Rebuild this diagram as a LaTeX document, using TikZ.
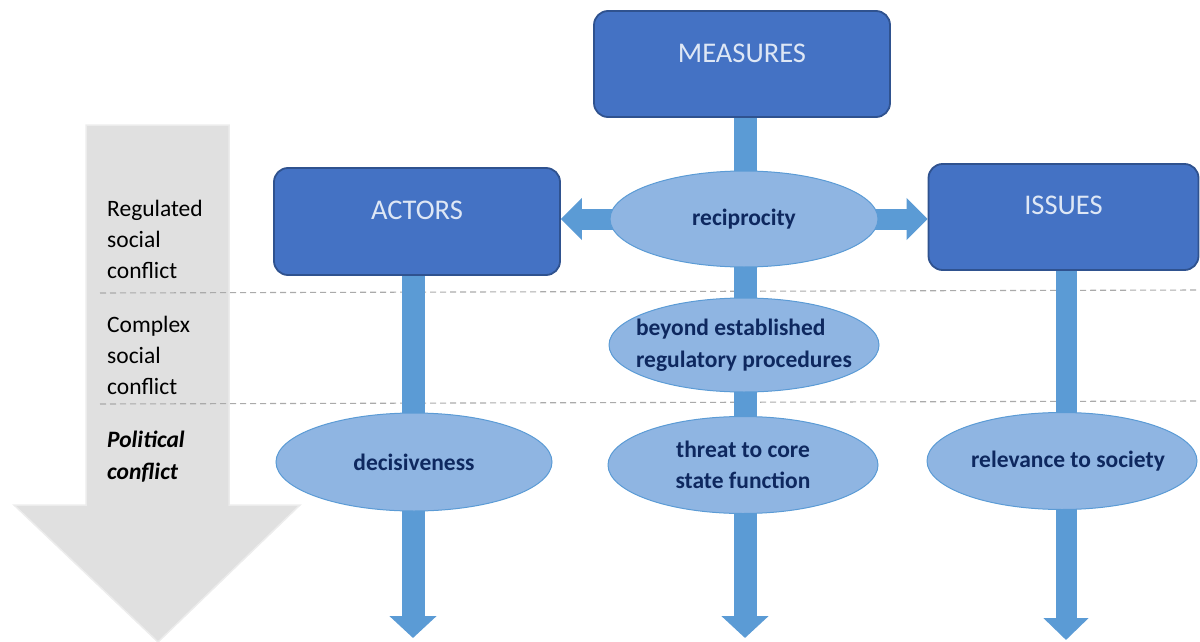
\documentclass[tikz,border=0pt]{standalone}
\usepackage{fontspec}
\setmainfont{Carlito}
\usetikzlibrary{shapes.geometric,arrows.meta}
\pgfdeclarelayer{back}
\pgfdeclarelayer{bars}
\pgfsetlayers{back,bars,main}
\definecolor{boxfill}{HTML}{4472C4}
\definecolor{boxline}{HTML}{2F528F}
\definecolor{barblue}{HTML}{5B9BD5}
\definecolor{ellfill}{RGB}{143,181,226}
\definecolor{elltext}{RGB}{14,40,95}
\definecolor{boxtext}{RGB}{222,231,245}
\definecolor{graybg}{RGB}{224,224,224}
\definecolor{grayedge}{RGB}{236,236,236}
\definecolor{dashgray}{RGB}{170,170,170}
\tikzset{
  box/.style={draw=boxline, line width=1.8pt, fill=boxfill, rounded corners=14pt, inner sep=0pt},
  boxlabel/.style={text=boxtext, inner sep=0pt, font=\fontsize{28.5}{32}\selectfont},
  oval/.style={ellipse, draw=barblue, line width=1pt, fill=ellfill, inner xsep=-40pt, inner ysep=-10pt, text=elltext,
    font=\bfseries\fontsize{23.5}{31.5}\selectfont, align=center},
  bar/.style={draw=barblue, line width=23pt, -{Triangle[width=46pt,length=22pt]}},
  hbar/.style={draw=barblue, line width=21pt,
    {Triangle[width=41pt,length=21pt]}-{Triangle[width=41pt,length=21pt]}},
  level/.style={anchor=north west, inner sep=0pt, align=left, font=\fontsize{23.5}{31}\selectfont},
  divider/.style={draw=dashgray, line width=1.1pt, dash pattern=on 6pt off 4pt},
  bigarrow/.style={fill=graybg, draw=grayedge, line width=1.5pt, line join=miter},
}
\begin{document}
\begin{tikzpicture}[x=1pt, y=-1pt]
\useasboundingbox (0,0) rectangle (1200,642);

% boxes
\node[box, minimum width=296pt, minimum height=106pt] (measures) at (742,64) {};
\node[box, minimum width=286pt, minimum height=107pt] (actors) at (417,221.5) {};
\node[box, minimum width=270pt, minimum height=106pt] (issues) at (1063.5,217) {};
\node[boxlabel] (measuresT) at (742,53) {MEASURES};
\node[boxlabel] (actorsT) at (417,210) {ACTORS};
\node[boxlabel] (issuesT) at (1063.5,205) {ISSUES};

% ellipses
\node[oval, minimum width=268pt, minimum height=96pt] (recip) at (744,219) {reciprocity};
\node[oval, align=left, minimum width=270pt, minimum height=94pt] (beyond) at (744,345) {beyond established\\regulatory procedures};
\node[oval, minimum width=276pt, minimum height=98pt] (decis) at (414,462) {decisiveness};
\node[oval, minimum width=270pt, minimum height=97pt] (threat) at (743,465) {threat to core\\state function};
\node[oval, minimum width=270pt, minimum height=97pt] (relev) at (1062,461) {\hspace*{12pt}relevance to society};

% arrow ends
\coordinate (cEnd) at (745,638);
\coordinate (aEnd) at (413,638);
\coordinate (iEnd) at (1066,640);

% level labels
\node[level] (reg) at (107,199.5) {Regulated\\social\\conflict};
\node[level] (cpx) at (107,315.5) {Complex\\social\\conflict};
\node[level, font=\bfseries\itshape\fontsize{23.5}{32}\selectfont] (pol) at (107,430.5) {Political\\conflict};

\begin{pgfonlayer}{back}
  \path[bigarrow] (86,125) -- (229,125) -- (229,505) -- (300,505) -- (158,642) -- (14,505) -- (86,505) -- cycle;
  \path[divider] (100,293) -- (1200,290);
  \path[divider] (100,404) -- (1200,401);
\end{pgfonlayer}

\begin{pgfonlayer}{bars}
  \draw[bar] (measures.south -| cEnd) -- (cEnd);
  \draw[bar] (actors.south -| aEnd) -- (aEnd);
  \draw[bar, line width=21pt, -{Triangle[width=44pt,length=22pt]}] (issues.south -| iEnd) -- (iEnd);
  \draw[hbar] (actors.east |- recip) -- (issues.west |- recip);
\end{pgfonlayer}
\end{tikzpicture}
\end{document}
